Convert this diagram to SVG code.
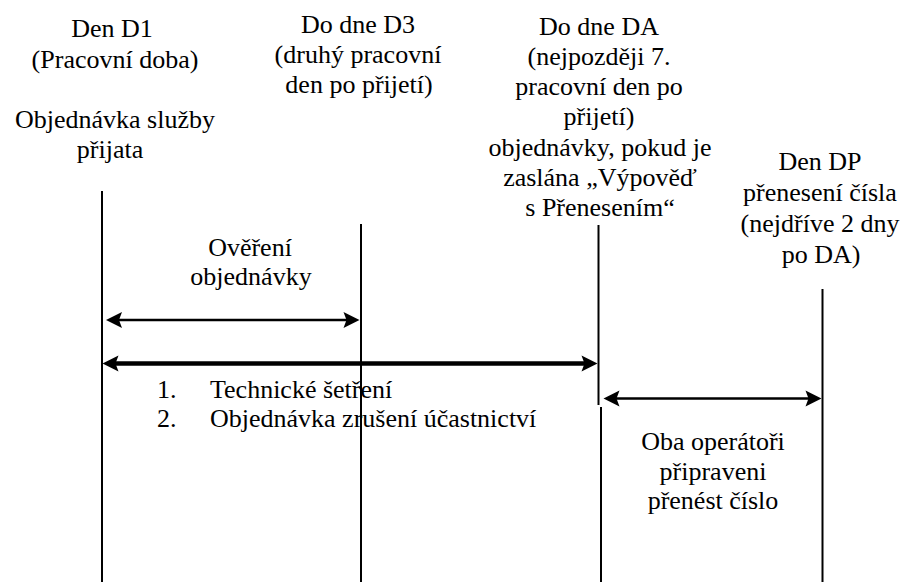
<svg xmlns="http://www.w3.org/2000/svg" xmlns:xlink="http://www.w3.org/1999/xlink" width="904" height="582" viewBox="0 0 904 582">
  <style>
    text { font-family: 'Liberation Serif', 'Times New Roman', 'DejaVu Serif', serif; font-size: 26px; fill: #000; }
    .c { text-anchor: middle; }
    .day { stroke: #000; stroke-width: 2; fill: none; }
    .span { stroke: #000; stroke-width: 2.6; fill: none; }
    .span-main { stroke: #000; stroke-width: 4.5; fill: none; }
    .head { fill: #000; }
  </style>
  <defs>
    <!-- arrowhead with its tip at the origin, pointing right -->
    <path id="head" class="head" d="M0,0 L-16,-8 L-13,0 L-16,8 Z"/>
  </defs>
  <rect width="904" height="582" fill="#fff"/>

  <g font-family="'Liberation Serif', 'Times New Roman', 'DejaVu Serif', serif">
  <!-- day D1 -->
  <g id="day-d1">
    <text class="c" x="112" y="37">Den D1</text>
    <text class="c" x="115" y="68">(Pracovní doba)</text>
    <text class="c" x="115" y="128">Objednávka služby</text>
    <text class="c" x="110" y="158">přijata</text>
    <line class="day" x1="102" y1="191" x2="102" y2="582"/>
  </g>

  <!-- day D3 -->
  <g id="day-d3">
    <text class="c" x="358" y="33">Do dne D3</text>
    <text class="c" x="358" y="63">(druhý pracovní</text>
    <text class="c" x="359" y="93">den po přijetí)</text>
    <line class="day" x1="361" y1="224" x2="361" y2="582"/>
  </g>

  <!-- day DA -->
  <g id="day-da">
    <text class="c" x="599" y="35">Do dne DA</text>
    <text class="c" x="599" y="65">(nejpozději 7.</text>
    <text class="c" x="599" y="95">pracovní den po</text>
    <text class="c" x="599" y="125">přijetí)</text>
    <text class="c" x="600" y="156">objednávky, pokud je</text>
    <text class="c" x="600" y="186">zaslána „Výpověď</text>
    <text class="c" x="600" y="216">s Přenesením“</text>
    <line class="day" x1="598.5" y1="225" x2="598.5" y2="405"/>
    <line class="day" x1="601" y1="407" x2="601" y2="582"/>
  </g>

  <!-- day DP -->
  <g id="day-dp">
    <text class="c" x="820" y="170">Den DP</text>
    <text class="c" x="820" y="201">přenesení čísla</text>
    <text class="c" x="820" y="232">(nejdříve 2 dny</text>
    <text class="c" x="821" y="263">po DA)</text>
    <line class="day" x1="822.5" y1="289" x2="822.5" y2="582"/>
  </g>

  <!-- period labels -->
  <g id="label-verification">
    <text class="c" x="250" y="256">Ověření</text>
    <text class="c" x="251" y="285">objednávky</text>
  </g>
  <g id="label-steps">
    <text x="157" y="398">1.</text>
    <text x="210" y="398">Technické šetření</text>
    <text x="157" y="427">2.</text>
    <text x="210" y="427">Objednávka zrušení účastnictví</text>
  </g>
  <g id="label-ready">
    <text class="c" x="713" y="450">Oba operátoři</text>
    <text class="c" x="713" y="480">připraveni</text>
    <text class="c" x="713" y="509">přenést číslo</text>
  </g>
  </g>

  <!-- period arrows -->
  <g id="connectors">
    <line class="span" x1="118" y1="320" x2="347" y2="320"/>
    <use xlink:href="#head" transform="translate(106,320) scale(-1,1)"/>
    <use xlink:href="#head" transform="translate(359.5,320)"/>

    <line class="span-main" x1="114" y1="363.5" x2="585" y2="363.5"/>
    <use xlink:href="#head" transform="translate(102.5,363.5) scale(-1,1)"/>
    <use xlink:href="#head" transform="translate(597.5,363.5)"/>

    <line class="span" x1="615" y1="398.5" x2="810" y2="398.5"/>
    <use xlink:href="#head" transform="translate(603.5,398.5) scale(-1,1)"/>
    <use xlink:href="#head" transform="translate(821.5,398.5)"/>
  </g>
</svg>
